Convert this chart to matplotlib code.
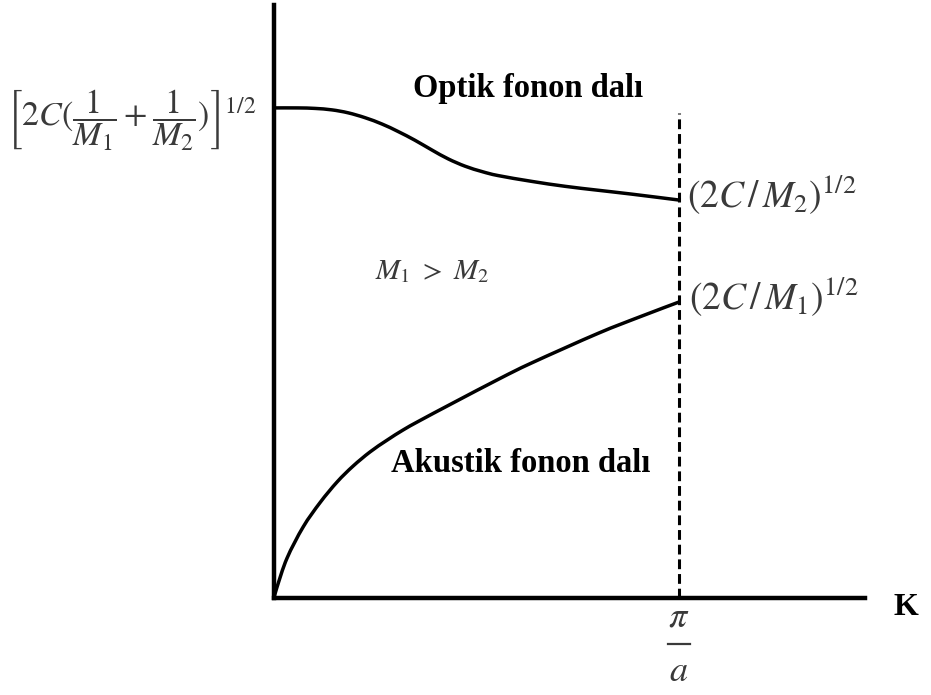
import numpy as np
import matplotlib.pyplot as plt
from matplotlib.path import Path
from matplotlib.patches import PathPatch

plt.rcParams['font.family'] = ['Liberation Serif', 'DejaVu Serif']
plt.rcParams['mathtext.fontset'] = 'stix'

# K in units of pi/a, omega normalised to the optical value at K = 0
k_opt = [0.0, 0.059, 0.101, 0.143, 0.183, 0.225, 0.267, 0.306, 0.348, 0.390,
         0.430, 0.472, 0.514, 0.553, 0.637, 0.719, 0.800, 0.884, 1.0]
w_opt = [1.0, 1.0, 0.999, 0.996, 0.990, 0.980, 0.967, 0.952, 0.934, 0.914,
         0.896, 0.881, 0.870, 0.862, 0.850, 0.840, 0.832, 0.824, 0.812]

k_ac = [0.0, 0.007, 0.032, 0.072, 0.114, 0.156, 0.195, 0.237, 0.279, 0.319,
        0.360, 0.442, 0.558, 0.637, 0.800, 0.904, 1.0]
w_ac = [0.0, 0.021, 0.081, 0.145, 0.195, 0.237, 0.269, 0.298, 0.322, 0.343,
        0.362, 0.398, 0.448, 0.480, 0.540, 0.574, 0.604]

k_edge = 1.0
w_dash_top = 0.99

math_col = '#3a3a3a'


def smooth_path(xs, ys):
    # Catmull-Rom through the points, written as cubic Bezier segments
    p = np.column_stack([xs, ys])
    verts = [p[0]]
    codes = [Path.MOVETO]
    for i in range(len(p) - 1):
        p0 = p[i - 1] if i > 0 else p[i]
        p3 = p[i + 2] if i + 2 < len(p) else p[i + 1]
        c1 = p[i] + (p[i + 1] - p0) / 6
        c2 = p[i + 1] - (p3 - p[i]) / 6
        verts += [c1, c2, p[i + 1]]
        codes += [Path.CURVE4] * 3
    return Path(verts, codes)


fig = plt.figure(figsize=(9.31, 6.95), dpi=100)
ax = fig.add_axes([274/931, 97/695, 591/931, 593/695])
ax.set_xlim(0, 1.459)
ax.set_ylim(0, 1.21)

for xs, ys in [(k_opt, w_opt), (k_ac, w_ac)]:
    ax.add_patch(PathPatch(smooth_path(xs, ys), fill=False, edgecolor='black',
                           lw=2.5, capstyle='round'))
ax.plot([k_edge, k_edge], [0, w_dash_top], color='black', lw=2.2,
        linestyle=(0, (3.2, 1.6)))

for s in ['top', 'right']:
    ax.spines[s].set_visible(False)
for s in ['left', 'bottom']:
    ax.spines[s].set_linewidth(3.2)
ax.set_xticks([])
ax.set_yticks([])

# branch names
ax.text(0.626, 1.04, 'Optik fonon dalı', fontsize=23.5, fontweight='bold',
        ha='center', va='center')
ax.text(0.610, 0.275, 'Akustik fonon dalı', fontsize=23.5, fontweight='bold',
        ha='center', va='center')
ax.text(0.390, 0.665, r'$M_1\ >\ M_2$', fontsize=21, color=math_col,
        ha='center', va='center')

# band edge values
ax.text(1.02, w_opt[-1] + 0.01, r'$(2C\,/\,M_2)^{1/2}$', fontsize=27,
        color=math_col, ha='left', va='center')
ax.text(1.025, w_ac[-1] + 0.01, r'$(2C\,/\,M_1)^{1/2}$', fontsize=27,
        color=math_col, ha='left', va='center')
ax.text(-0.043, 0.975,
        r'$\left[2C(\dfrac{1}{M_1}+\dfrac{1}{M_2})\right]^{1/2}$',
        fontsize=24.5, color=math_col, ha='right', va='center')

# K axis: pi / a at the zone edge, and the axis name
ax.text(k_edge, -0.041, r'$\pi$', fontsize=26, color=math_col,
        ha='center', va='center')
ax.plot([k_edge - 0.028, k_edge + 0.028], [-0.094, -0.094], color=math_col,
        lw=1.6, clip_on=False)
ax.text(k_edge, -0.152, r'$a$', fontsize=26, color=math_col,
        ha='center', va='center')
ax.text(1.56, -0.02, 'K', fontsize=23, fontweight='bold',
        ha='center', va='center', clip_on=False)

fig.savefig('out.png', dpi=100)
